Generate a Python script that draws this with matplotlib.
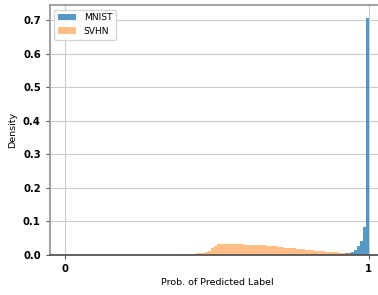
import numpy as np
import matplotlib
matplotlib.use("Agg")
import matplotlib.pyplot as plt

# fraction of samples per bin, bins of width 0.01 from 0 to 1
bin_edges = np.linspace(0, 1, 101)

mnist_heights = [0.0] * 60 + [
    0.0005, 0.0005, 0.0005, 0.0005, 0.0005, 0.0005, 0.0005, 0.0005, 0.0005, 0.0005,
    0.0005, 0.0005, 0.0005, 0.0005, 0.0005, 0.0008, 0.0008, 0.001, 0.001, 0.001,
    0.001, 0.0012, 0.0015, 0.0015, 0.002, 0.002, 0.0025, 0.003, 0.002, 0.003,
    0.003, 0.004, 0.005, 0.007, 0.010, 0.016, 0.025, 0.040, 0.083, 0.706,
]

svhn_heights = [0.0] * 29 + [
    0.0003, 0.0003, 0.0005, 0.0005, 0.0005, 0.0007, 0.0008, 0.001, 0.0012, 0.0015,
    0.002, 0.0025, 0.003, 0.004, 0.005, 0.006, 0.007, 0.009, 0.013, 0.020,
    0.026, 0.031, 0.032, 0.033, 0.032, 0.032, 0.032, 0.031, 0.031, 0.031,
    0.030, 0.030, 0.030, 0.029, 0.029, 0.028, 0.028, 0.027, 0.026, 0.026,
    0.025, 0.024, 0.023, 0.022, 0.022, 0.021, 0.020, 0.019, 0.018, 0.017,
    0.016, 0.015, 0.014, 0.013, 0.012, 0.011, 0.011, 0.010, 0.009, 0.008,
    0.008, 0.007, 0.006, 0.006, 0.005, 0.004, 0.004, 0.003, 0.003, 0.002,
    0.002,
]

labels = ["MNIST", "SVHN"]

fig = plt.figure(figsize=(3.78, 2.95), dpi=100)
ax = fig.add_axes([0.132, 0.136, 0.884, 0.847])

centers = (bin_edges[:-1] + bin_edges[1:]) / 2
ax.hist(centers, bins=bin_edges, weights=mnist_heights, color="tab:blue",
        alpha=0.75, label=labels[0], zorder=2)
ax.hist(centers, bins=bin_edges, weights=svhn_heights, color="tab:orange",
        alpha=0.5, label=labels[1], zorder=2)

ax.set_xlim(-0.05, 1.05)
ax.set_ylim(0, 0.745)
ax.set_xticks([0, 1])
ax.set_xticklabels(["0", "1"])
ax.set_yticks([0.0, 0.1, 0.2, 0.3, 0.4, 0.5, 0.6, 0.7])
ax.grid(True, color="#cccccc", linewidth=0.8, zorder=0)
ax.set_axisbelow(True)

for lab in ax.get_xticklabels() + ax.get_yticklabels():
    lab.set_fontweight("bold")
ax.tick_params(labelsize=7.2, length=3, color="#555555")

for s in ["top", "left", "right"]:
    ax.spines[s].set_color("#999999")
    ax.spines[s].set_linewidth(1.3)
ax.spines["bottom"].set_color("#555555")
ax.spines["bottom"].set_linewidth(1.3)

ax.set_xlabel("Prob. of Predicted Label", fontsize=6.8, labelpad=3)
ax.set_ylabel("Density", fontsize=6.8)
ax.legend(loc="upper left", fontsize=6.6)

plt.savefig("out.png", dpi=100)
